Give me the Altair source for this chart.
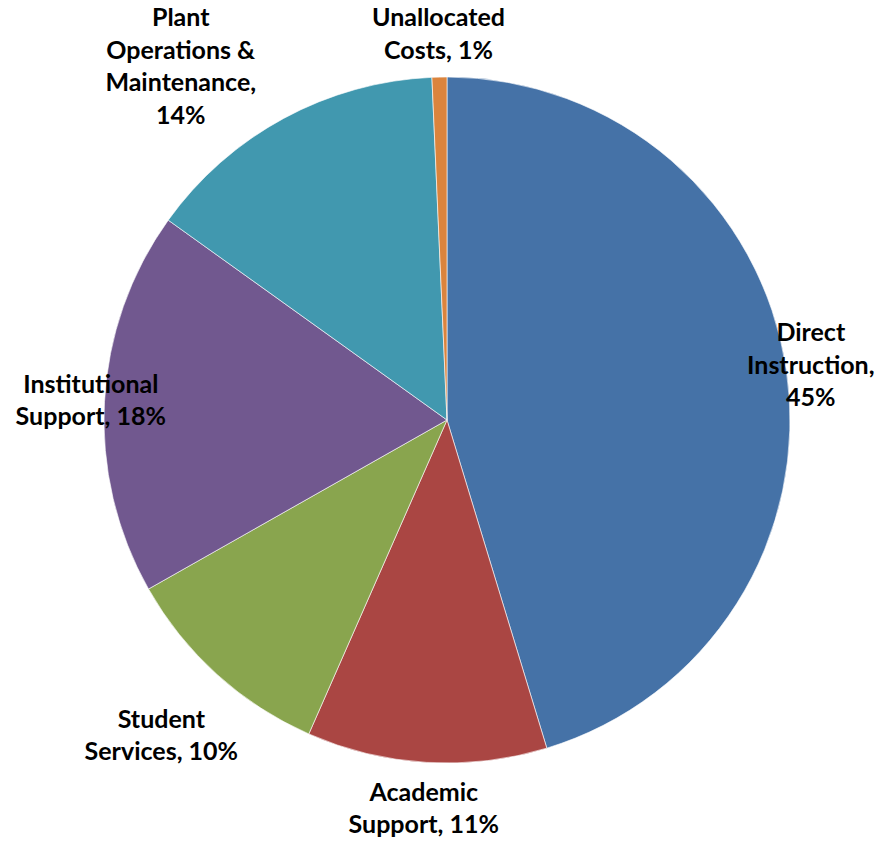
import altair as alt
import pandas as pd

categories = ["Direct Instruction", "Academic Support", "Student Services",
              "Institutional Support", "Plant Operations & Maintenance", "Unallocated Costs"]
label_lines = ["Direct\nInstruction,\n45%", "Academic\nSupport, 11%", "Student\nServices, 10%",
               "Institutional\nSupport, 18%", "Plant\nOperations &\nMaintenance,\n14%", "Unallocated\nCosts, 1%"]
values = [45.3, 11.3, 10.2, 18.1, 14.4, 0.7]
colors = ["#4572A7", "#AA4643", "#89A54E", "#71588F", "#4198AF", "#DB843D"]

df = pd.DataFrame({
    "category": categories,
    "label": label_lines,
    "value": values,
    "idx": list(range(len(categories))),
})

W, H = 878, 824
R = 343
LH = 32.5
CW = 5.6  # approx half char width for label box estimate

base = alt.Chart(df).transform_joinaggregate(
    total="sum(value)"
).transform_window(
    cum="sum(value)", sort=[alt.SortField("idx")]
)

arcs = base.mark_arc(outerRadius=R, stroke="#ffffff", strokeWidth=1, strokeOpacity=0.6).encode(
    theta=alt.Theta("value:Q", stack=True),
    color=alt.Color("category:N", scale=alt.Scale(domain=categories, range=colors), legend=None),
    order=alt.Order("idx:Q"),
)

cx, cy = W / 2, H / 2
lab = base.transform_calculate(
    mid="(datum.cum - datum.value/2) / datum.total * 2 * PI",
    lines="split(datum.label, '\\n')",
).transform_calculate(
    n="length(datum.lines)",
    maxc="max(length(datum.lines[0]), length(datum.lines[1] || ''), length(datum.lines[2] || ''), length(datum.lines[3] || ''))",
    s="sin(datum.mid)",
    c="cos(datum.mid)",
).transform_calculate(
    a=f"datum.maxc * {CW}",
    b=f"datum.n * {LH/2}",
).transform_calculate(
    r=f"{R} + 10 + abs(datum.s)*datum.a + abs(datum.c)*datum.b",
    xmin="datum.a + 10",
    xmax=f"{W} - datum.a - 8",
    ymin="datum.b - 6",
    ymax=f"{H} - datum.b + 12",
).transform_calculate(
    px0=f"{cx} + datum.r*datum.s",
    py0=f"{cy} - datum.r*datum.c",
).transform_calculate(
    px1=f"datum.px0 > datum.xmax ? datum.xmax : (datum.px0 < datum.xmin ? datum.xmin : datum.px0)",
    py1=(f"datum.px0 > datum.xmax ? {cy} - (datum.xmax-{cx})/datum.s*datum.c : "
         f"(datum.px0 < datum.xmin ? {cy} - (datum.xmin-{cx})/datum.s*datum.c : datum.py0)"),
).transform_calculate(
    py2="datum.py1 < datum.ymin ? datum.ymin : (datum.py1 > datum.ymax ? datum.ymax : datum.py1)",
).transform_calculate(
    px2=(f"abs(datum.py2 - datum.py1) > 3 ? {cx} + (datum.s < 0 ? -1 : 1)*sqrt(max(0, datum.r*datum.r - "
         f"(datum.py2-{cy})*(datum.py2-{cy}))) : datum.px1"),
    ytop=f"datum.py2 - (datum.n - 1) * {LH/2}",
)

texts = lab.mark_text(
    lineBreak="\n", font="Lato", fontWeight="bold", fontSize=25, lineHeight=LH,
    color="#000000", align="center", baseline="middle"
).encode(
    x=alt.X("px2:Q", scale=None, axis=None),
    y=alt.Y("ytop:Q", scale=None, axis=None),
    text="label:N",
)

chart = alt.layer(arcs, texts).properties(
    width=W, height=H,
    padding={"left": 0, "top": 0, "right": 0, "bottom": 9},
    autosize=alt.AutoSizeParams(type="none"),
).configure_view(stroke=None)

chart.save("out.html", embed_options={"renderer": "svg", "actions": False})
